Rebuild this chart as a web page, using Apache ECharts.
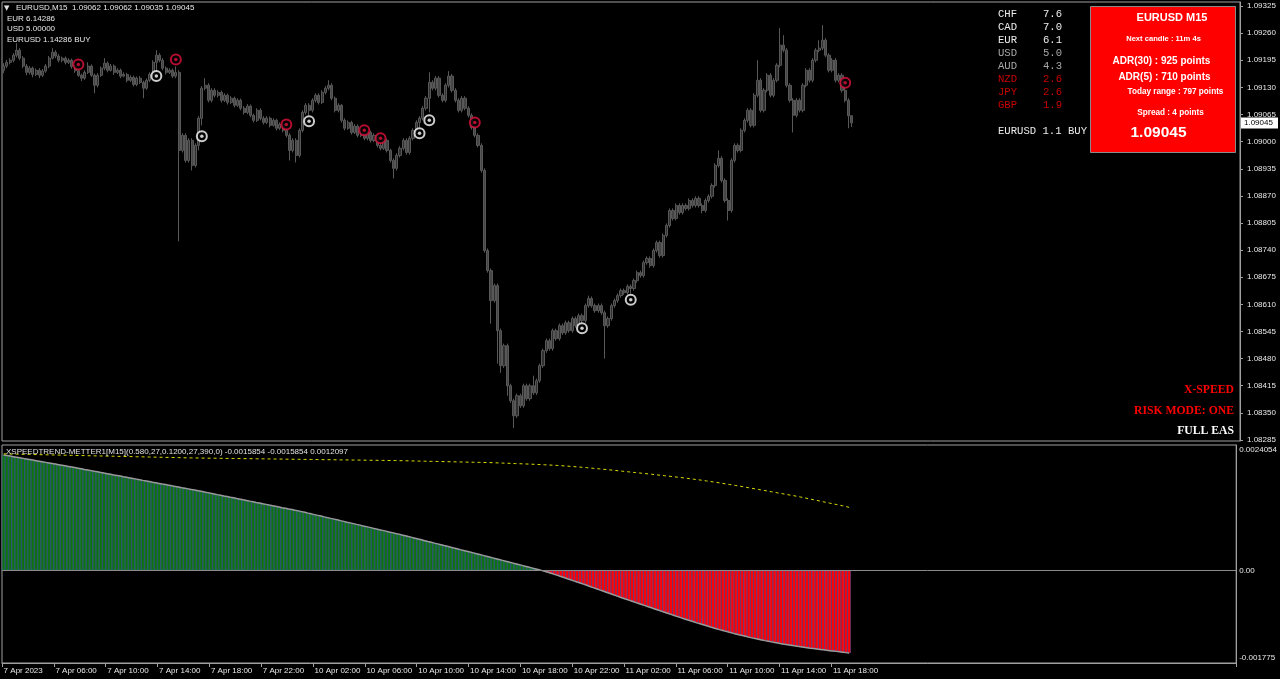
<!DOCTYPE html>
<html><head><meta charset="utf-8">
<script src="https://cdn.jsdelivr.net/npm/echarts@6/dist/echarts.min.js"></script>
<style>html,body{margin:0;padding:0;background:#000;overflow:hidden}#c{width:1280px;height:679px}</style>
</head><body><div id="c"></div><script>
// ---- DATA ----
// M15 bars: sessions [day label, start hour, number of slots]
const sessions = [['7 Apr', 2, 88], ['10 Apr', 0, 96], ['11 Apr', 0, 96], ['12 Apr', 0, 101]];
const xTickCats = ['7 Apr 02:00','7 Apr 06:00','7 Apr 10:00','7 Apr 14:00','7 Apr 18:00','7 Apr 22:00','10 Apr 02:00','10 Apr 06:00','10 Apr 10:00','10 Apr 14:00','10 Apr 18:00','10 Apr 22:00','11 Apr 02:00','11 Apr 06:00','11 Apr 10:00','11 Apr 14:00','11 Apr 18:00'];
const xTickLabels = ['7 Apr 2023','7 Apr 06:00','7 Apr 10:00','7 Apr 14:00','7 Apr 18:00','7 Apr 22:00','10 Apr 02:00','10 Apr 06:00','10 Apr 10:00','10 Apr 14:00','10 Apr 18:00','10 Apr 22:00','11 Apr 02:00','11 Apr 06:00','11 Apr 10:00','11 Apr 14:00','11 Apr 18:00'];
const priceTicks = [1.08285,1.08350,1.08415,1.08480,1.08545,1.08610,1.08675,1.08740,1.08805,1.08870,1.08935,1.09000,1.09065,1.09130,1.09195,1.09260,1.09325];
const indTickValues = [0.0024054, 0, -0.001775];
const indTickLabels = ['0.0024054', '0.00', '-0.001775'];
// candles: [open, close, low, high] in points above 1.08000 (price = 1.08 + pts/100000)
const candles = [
[1171,1181,1164,1188],[1181,1190,1176,1196],[1190,1195,1185,1200],[1195,1207,1190,1212],[1207,1219,1202,1236],
[1219,1200,1195,1224],[1200,1181,1176,1205],[1181,1166,1159,1186],[1166,1176,1161,1181],[1176,1161,1154,1180],
[1161,1171,1157,1175],[1171,1159,1152,1176],[1159,1169,1155,1174],[1169,1181,1165,1186],[1181,1200,1176,1205],
[1200,1214,1197,1224],[1214,1205,1200,1219],[1205,1195,1190,1210],[1195,1200,1190,1204],[1200,1190,1185,1204],
[1190,1195,1186,1200],[1195,1180,1175,1199],[1180,1170,1165,1183],[1170,1159,1155,1176],[1159,1152,1145,1163],
[1152,1166,1148,1171],[1166,1181,1162,1190],[1181,1159,1155,1185],[1159,1135,1116,1163],[1135,1159,1130,1164],
[1159,1176,1155,1180],[1176,1188,1171,1200],[1188,1171,1166,1192],[1171,1181,1168,1186],[1181,1166,1160,1185],
[1166,1171,1162,1176],[1171,1157,1152,1175],[1157,1161,1154,1166],[1161,1147,1142,1165],[1147,1154,1143,1159],
[1154,1137,1132,1158],[1137,1152,1133,1156],[1152,1142,1138,1157],[1142,1128,1104,1146],[1128,1147,1124,1151],
[1147,1161,1143,1166],[1161,1190,1157,1195],[1190,1207,1166,1219],[1207,1195,1190,1212],[1195,1176,1171,1200],
[1176,1166,1161,1180],[1166,1171,1162,1176],[1171,1157,1152,1175],[1157,1166,1152,1180],[1166,979,761,1171],
[979,1015,974,1020],[1015,955,950,1020],[955,1003,950,1008],[1003,943,931,1008],[943,991,938,996],
[991,1056,979,1061],[1056,1128,1039,1133],[1128,1135,1123,1152],[1135,1099,1094,1140],[1099,1123,1094,1128],
[1123,1111,1106,1128],[1111,1118,1106,1123],[1118,1099,1094,1122],[1099,1111,1095,1116],[1111,1094,1089,1115],
[1094,1104,1090,1109],[1104,1087,1082,1108],[1087,1099,1083,1104],[1099,1080,1075,1103],[1080,1070,1065,1085],
[1070,1085,1066,1090],[1085,1063,1058,1089],[1063,1051,1046,1067],[1051,1075,1047,1080],[1075,1056,1051,1080],
[1056,1046,1041,1061],[1046,1056,1042,1061],[1056,1039,1034,1060],[1039,1051,1036,1056],[1051,1032,1027,1055],
[1032,1041,1028,1046],[1041,1027,1022,1045],[1027,1015,1010,1032],[1015,979,955,1020],[979,1003,974,1008],
[1003,967,950,1008],[967,1027,962,1032],[1027,1070,1022,1075],[1070,1087,1065,1092],[1087,1075,1063,1092],
[1075,1099,1070,1104],[1099,1111,1094,1116],[1111,1094,1089,1116],[1094,1118,1090,1123],[1118,1128,1113,1133],
[1128,1135,1123,1147],[1135,1104,1099,1140],[1104,1075,1070,1108],[1075,1087,1070,1092],[1087,1051,1046,1090],
[1051,1032,1027,1056],[1032,1046,1028,1051],[1046,1022,1017,1050],[1022,1037,1018,1042],[1037,1015,1010,1041],
[1015,1020,1011,1025],[1020,1008,1003,1022],[1008,1022,1003,1027],[1022,1003,998,1026],[1003,1015,999,1020],
[1015,991,986,1019],[991,984,979,998],[984,1003,980,1008],[1003,979,974,1007],[979,955,950,983],
[955,936,912,960],[936,967,931,972],[967,984,962,989],[984,1003,979,1008],[1003,974,969,1008],
[974,1008,969,1013],[1008,1027,1003,1032],[1027,1046,1022,1051],[1046,1056,1034,1061],[1056,1080,1051,1085],
[1080,1104,1075,1109],[1104,1142,1070,1166],[1142,1128,1123,1147],[1128,1152,1123,1157],[1152,1111,1106,1157],
[1111,1099,1094,1116],[1099,1135,1094,1140],[1135,1157,1130,1169],[1157,1123,1118,1162],[1123,1099,1094,1128],
[1099,1075,1070,1104],[1075,1104,1070,1109],[1104,1080,1075,1109],[1080,1063,1058,1085],[1063,1034,1029,1068],
[1034,1015,1010,1037],[1015,991,986,1020],[991,931,926,996],[931,739,734,936],[739,691,686,744],
[691,619,564,696],[619,655,614,660],[655,547,468,660],[547,463,446,552],[463,511,458,516],
[511,415,391,516],[415,379,374,420],[379,343,314,384],[343,391,338,396],[391,367,362,396],
[367,415,362,420],[415,384,379,420],[384,415,379,420],[415,398,393,439],[398,427,393,432],
[427,463,422,468],[463,499,458,504],[499,523,494,528],[523,504,499,528],[504,547,499,552],
[547,528,523,552],[528,559,523,564],[559,542,537,564],[542,566,537,571],[566,547,542,571],
[547,576,542,581],[576,559,554,581],[559,583,554,588],[583,571,566,588],[571,607,566,612],
[607,624,602,631],[624,607,602,629],[607,595,590,612],[595,607,590,612],[607,590,585,612],
[590,559,480,595],[559,576,554,581],[576,607,571,612],[607,619,602,624],[619,631,614,636],
[631,643,626,648],[643,638,633,648],[638,653,633,658],[653,648,636,658],[648,667,643,672],
[667,686,662,691],[686,679,674,691],[679,710,674,715],[710,720,705,725],[720,703,698,725],
[703,739,698,744],[739,758,734,763],[758,727,722,763],[727,775,722,780],[775,799,770,804],
[799,835,794,840],[835,816,811,840],[816,847,811,852],[847,830,825,852],[830,847,825,852],
[847,840,835,852],[840,859,835,864],[859,847,842,864],[847,864,842,869],[864,847,842,869],
[847,835,828,852],[835,859,830,864],[859,869,854,874],[869,895,864,900],[895,943,890,948],
[943,960,938,979],[960,907,902,965],[907,859,854,912],[859,835,811,864],[835,955,830,960],
[955,991,950,996],[991,979,974,996],[979,1027,974,1032],[1027,1051,1022,1056],[1051,1075,1046,1080],
[1075,1039,1034,1080],[1039,1111,1034,1116],[1111,1147,1106,1195],[1147,1075,1070,1152],[1075,1123,1070,1128],
[1123,1159,1118,1164],[1159,1111,1106,1164],[1111,1147,1106,1152],[1147,1183,1142,1188],[1183,1231,1178,1272],
[1231,1219,1214,1255],[1219,1135,1130,1224],[1135,1099,1094,1140],[1099,1063,1022,1104],[1063,1099,1058,1104],
[1099,1075,1070,1104],[1075,1135,1070,1140],[1135,1171,1130,1176],[1171,1147,1142,1176],[1147,1195,1142,1200],
[1195,1219,1190,1224],[1219,1224,1214,1243],[1224,1243,1219,1279],[1243,1207,1202,1248],[1207,1171,1166,1212],
[1171,1195,1166,1200],[1195,1147,1142,1200],[1147,1159,1142,1164],[1159,1123,1118,1164],[1123,1099,1094,1130],
[1099,1062,1032,1104],[1062,1045,1035,1062]
];
// signal arrows (bar index, points above 1.08000)
const sellSignals = [[23,1185],[53,1197],[87,1041],[111,1027],[116,1008],[145,1046],[259,1141]];
const buySignals = [[47,1157],[61,1013],[94,1049],[128,1020],[131,1051],[178,553],[193,621]];
const lastPrice = 1.09045;
// indicator values in units of 1e-6
const histVals = [2215,2204,2193,2182,2171,2160,2149,2138,2127,2116,2105,2094,2083,2072,2061,2050,2039,2028,2017,2006,1995,1984,1973,
1961,1949,1937,1926,1914,1902,1891,1879,1867,1856,1844,1832,1821,1809,1797,1786,1774,1762,1751,1739,1727,1716,1704,1692,1681,1669,1657,1646,1634,1622,1611,1599,1587,1576,1564,1552,1541,1529,
1517,1504,1492,1479,1467,1454,1442,1429,1417,1404,1392,1379,1367,1354,1342,1329,1317,1304,1292,1279,1267,1254,1242,1229,1217,1204,1192,1179,1167,1154,1142,
1128,1114,1099,1085,1070,1056,1042,1027,1013,998,984,970,955,941,926,912,898,883,869,854,840,826,811,797,782,768,754,739,725,710,696,
680,665,649,634,618,602,587,571,555,540,524,509,493,477,462,446,430,415,399,384,368,352,337,321,
305,289,273,257,241,225,209,193,177,161,145,129,113,97,81,65,49,33,17,1,
-17,-36,-55,-75,-95,-116,-137,-158,-179,-200,-221,-242,-263,-285,-307,-329,-351,-373,-395,-417,-439,-461,-483,-505,-527,-549,
-570,-591,-612,-633,-654,-675,-696,-717,-738,-759,-780,-801,-822,-843,-864,-885,-905,-925,-945,-965,-985,-1005,
-1024,-1043,-1062,-1081,-1099,-1117,-1135,-1152,-1169,-1186,-1202,-1218,-1234,-1249,-1264,-1279,-1293,-1307,
-1320,-1333,-1346,-1358,-1370,-1382,-1393,-1404,-1415,-1425,-1435,-1445,-1455,-1464,-1473,-1482,
-1491,-1499,-1507,-1515,-1523,-1531,-1538,-1545,-1552,-1559,-1567,-1576,-1585];
const signalVals = [2235,2234,2232,2231,2230,2228,2227,2226,2224,2223,2222,2220,2219,2218,2216,2215,2214,2212,2211,2210,2208,2207,2206,2204,2203,2202,2200,2199,2198,2196,2195,2194,2192,2191,2190,2188,2187,2186,2184,2183,2182,2180,2179,2178,2176,2175,2174,2172,2171,2170,2168,2167,2166,2164,2163,2162,2160,2159,2158,2157,2156,
2155,2154,2153,2152,2152,2151,2150,2149,2148,2148,2147,2146,2145,2144,2144,2143,2142,2141,2140,2140,2139,2138,2137,2136,2136,2135,2134,2133,2132,2132,2131,2130,2129,2128,2128,2127,2126,2125,2124,2124,2123,2122,2121,2120,2120,2119,2118,2117,2116,2116,2115,2114,2113,2112,2112,2111,2110,2109,2108,2108,
2107,2105,2104,2103,2101,2100,2099,2097,2096,2095,2093,2092,2091,2089,2088,2087,2085,2084,2083,2081,2080,2079,2077,2076,2075,2073,2072,2071,2069,2068,
2066,2063,2061,2059,2056,2054,2052,2049,2047,2045,2042,2040,2037,2035,2032,2029,2026,2023,2020,2017,
2013,2009,2005,2001,1996,1991,1986,1981,1976,1971,1965,1959,1953,1947,1941,
1935,1929,1923,1916,1910,1903,1897,1890,1884,1877,1871,1864,1858,1851,1845,
1838,1831,1824,1817,1810,1803,1796,1789,1782,1774,1766,1758,1750,1742,1734,
1725,1716,1707,1698,1689,1679,1669,1659,1649,1639,1629,1619,1608,1597,1586,
1575,1564,1553,1542,1531,1520,1509,1498,1487,1476,1465,1454,1443,1432,1421,
1408,1395,1382,1369,1356,1343,1330,1317,1304,1291,1278,1265,1252,1239,1226,1210];
const headerLines = ['EURUSD,M15  1.09062 1.09062 1.09035 1.09045', 'EUR 6.14286', 'USD 5.00000', 'EURUSD 1.14286 BUY'];
const strengthCcy = ['CHF','CAD','EUR','USD','AUD','NZD','JPY','GBP'];
const strengthVal = ['7.6','7.0','6.1','5.0','4.3','2.6','2.6','1.9'];
const strengthSummary = 'EURUSD 1.1 BUY';
const infoBox = ['EURUSD M15','Next candle : 11m 4s','ADR(30) : 925 points','ADR(5) : 710 points','Today range : 797 points','Spread : 4 points','1.09045'];
const eaLines = ['X-SPEED','RISK MODE: ONE','FULL EAS'];
const indicatorTitle = 'XSPEEDTREND-METTER1[M15](0.580,27,0.1200,27,390,0) -0.0015854 -0.0015854 0.0012097';

// ---- BUILD ----
const categories = [];
sessions.forEach(([day, h0, n]) => {
  for (let k = 0; k < n; k++) {
    const m = h0 * 60 + k * 15;
    categories.push(day + ' ' + String(Math.floor(m / 60)).padStart(2, '0') + ':' + String(m % 60).padStart(2, '0'));
  }
});
const toPrice = p => +(1.08 + p / 100000).toFixed(5);
const candleData = candles.map(c => c.map(toPrice));
const sellData = sellSignals.map(s => [s[0], toPrice(s[1])]);
const buyData = buySignals.map(s => [s[0], toPrice(s[1])]);
const histData = histVals.map(v => v / 1e6);
const sigData = signalVals.map(v => v / 1e6);
const tickSet = new Set(xTickCats);
const tickLabelOf = {}; xTickCats.forEach((c, i) => tickLabelOf[c] = xTickLabels[i]);

// indicator pane: MT4 draws the max/min labels just inside the pane edges
const indMin = -0.001775, indMax = 0.0024054, indPaneH = 218;
const perPx = (indMax - indMin) / indPaneH;
const indLabelPos = indTickValues.map(v => v === indMax ? v - 5 * perPx : (v === indMin ? v + 5 * perPx : v));
const indLabelOf = v => { let best = 0; indLabelPos.forEach((p, i) => { if (Math.abs(p - v) < Math.abs(indLabelPos[best] - v)) best = i; }); return indTickLabels[best]; };

const F = '"Liberation Sans", Arial, sans-serif';
const gridColor = '#a0a0a0';
const txt = (text, x, y, fill, font, align) => ({type: 'text', x, y, z: 100, silent: true,
  style: {text, fill, font, textAlign: align || 'left', textVerticalAlign: 'middle'}});

const graphics = [];
graphics.push(txt('\u25BC', 4, 8, '#e0e0e0', '7px "DejaVu Sans"'));
headerLines.forEach((t, i) => graphics.push(txt(t, i === 0 ? 16 : 7, 8 + i * 10.5, '#e8e8e8', '8px ' + F)));
const ccyColors = ['#ececec','#ececec','#ececec','#a8a8a8','#a8a8a8','#c80000','#c80000','#c80000'];
strengthCcy.forEach((c, i) => {
  graphics.push(txt(c, 998, 14 + i * 13, ccyColors[i], '10.6px "Liberation Mono", monospace'));
  graphics.push(txt(strengthVal[i], 1043, 14 + i * 13, ccyColors[i], '10.6px "Liberation Mono", monospace'));
});
graphics.push(txt(strengthSummary, 998, 131, '#ececec', '10.6px "Liberation Mono", monospace'));
graphics.push({type: 'rect', z: 90, silent: true, shape: {x: 1090.5, y: 6.5, width: 145, height: 146}, style: {fill: '#ff0000', stroke: '#8a8a8a', lineWidth: 1}});
const boxPos = [[1172,18,'bold 11px'],[1163.5,39,'bold 7.6px'],[1161.5,61,'bold 10px'],[1164.5,77,'bold 10px'],[1175.5,92,'bold 8.2px'],[1170.5,113,'bold 8.2px'],[1158.5,133,'bold 15.5px']];
infoBox.forEach((t, i) => graphics.push(txt(t, boxPos[i][0], boxPos[i][1], '#ffffff', boxPos[i][2] + ' ' + F, 'center')));
const eaColors = ['#ff0000', '#ff0000', '#ffffff'];
eaLines.forEach((t, i) => graphics.push(txt(t, 1234, 390 + i * 20.5, eaColors[i], 'bold 11.7px "Liberation Serif", serif', 'right')));
graphics.push(txt(indicatorTitle, 6, 452, '#e0e0e0', '8px ' + F));

const option = {
  backgroundColor: '#000',
  animation: false,
  grid: [
    {left: 2, right: 40, top: 2, height: 439, show: true, borderColor: gridColor, borderWidth: 1, backgroundColor: 'transparent'},
    {left: 2, right: 40, top: 445, height: indPaneH, show: true, borderColor: gridColor, borderWidth: 1, backgroundColor: 'transparent'}
  ],
  xAxis: [
    {type: 'category', gridIndex: 0, data: categories, boundaryGap: true, axisLine: {show: false}, axisTick: {show: false}, axisLabel: {show: false}, splitLine: {show: false}},
    {type: 'category', gridIndex: 1, data: categories, boundaryGap: true,
      axisLine: {show: true, onZero: false, lineStyle: {color: gridColor}},
      axisTick: {show: true, length: 4, interval: (i, v) => tickSet.has(v), lineStyle: {color: gridColor}},
      axisLabel: {show: true, interval: (i, v) => tickSet.has(v), formatter: v => tickLabelOf[v] || '', align: 'left', margin: 4, color: '#e8e8e8', fontSize: 8, fontFamily: F},
      splitLine: {show: false}}
  ],
  yAxis: [
    {type: 'value', gridIndex: 0, position: 'right', min: 1.082826, max: 1.093346, scale: true,
      axisLine: {show: true, lineStyle: {color: gridColor}},
      axisTick: {show: true, length: 3, customValues: priceTicks, lineStyle: {color: gridColor}},
      axisLabel: {show: true, customValues: priceTicks, formatter: v => v.toFixed(5), margin: 7, color: '#e8e8e8', fontSize: 8, fontFamily: F},
      splitLine: {show: false}},
    {type: 'value', gridIndex: 1, position: 'right', min: indMin, max: indMax,
      axisLine: {show: true, lineStyle: {color: gridColor}},
      axisTick: {show: false},
      axisLabel: {show: true, customValues: indLabelPos, formatter: v => indLabelOf(v), margin: 3, color: '#e8e8e8', fontSize: 8, fontFamily: F},
      splitLine: {show: false}}
  ],
  series: [
    {type: 'candlestick', xAxisIndex: 0, yAxisIndex: 0, data: candleData, barWidth: 2.6,
      itemStyle: {color: '#303030', color0: '#454545', borderColor: '#585858', borderColor0: '#585858', borderWidth: 1}},
    {type: 'scatter', xAxisIndex: 0, yAxisIndex: 0, data: buyData, symbol: 'circle', symbolSize: 10, z: 5,
      itemStyle: {color: '#000', borderColor: '#ffffff', borderWidth: 2}},
    {type: 'scatter', xAxisIndex: 0, yAxisIndex: 0, data: buyData, symbol: 'circle', symbolSize: 3.5, z: 6, itemStyle: {color: '#ffffff'}},
    {type: 'scatter', xAxisIndex: 0, yAxisIndex: 0, data: sellData, symbol: 'circle', symbolSize: 10, z: 5,
      itemStyle: {color: '#000', borderColor: '#e0103c', borderWidth: 2}},
    {type: 'scatter', xAxisIndex: 0, yAxisIndex: 0, data: sellData, symbol: 'circle', symbolSize: 3.5, z: 6, itemStyle: {color: '#e0103c'}},
    {type: 'bar', xAxisIndex: 1, yAxisIndex: 1, data: histData, barCategoryGap: '0%',
      itemStyle: {color: p => p.value >= 0 ? '#0f700f' : '#ff0000', borderColor: p => p.value >= 0 ? '#063a06' : '#c00000', borderWidth: 0.4},
      markLine: {silent: true, symbol: 'none', data: [{yAxis: 0}], lineStyle: {color: '#8a8a8a', width: 1, type: 'solid'}, label: {show: false}}},
    {type: 'line', xAxisIndex: 1, yAxisIndex: 1, data: histData, showSymbol: false, lineStyle: {color: '#9a9a9a', width: 1.5}, z: 4},
    {type: 'line', xAxisIndex: 1, yAxisIndex: 1, data: sigData, showSymbol: false, lineStyle: {color: '#dede00', width: 1, type: [3, 3]}, z: 4}
  ]
};
const chart = echarts.init(document.getElementById('c'), null, {renderer: 'canvas'});
chart.setOption(option);
// current price tag on the price scale, placed through the axis scale
const yLast = chart.convertToPixel({yAxisIndex: 0}, lastPrice);
graphics.push({type: 'rect', z: 110, silent: true, shape: {x: 1241, y: Math.round(yLast) - 5.5, width: 37, height: 11}, style: {fill: '#ffffff'}});
graphics.push(txt(lastPrice.toFixed(5), 1244, yLast, '#000000', '8px ' + F));
graphics[graphics.length - 1].z = 111;
chart.setOption({graphic: {elements: graphics}});
</script></body></html>
